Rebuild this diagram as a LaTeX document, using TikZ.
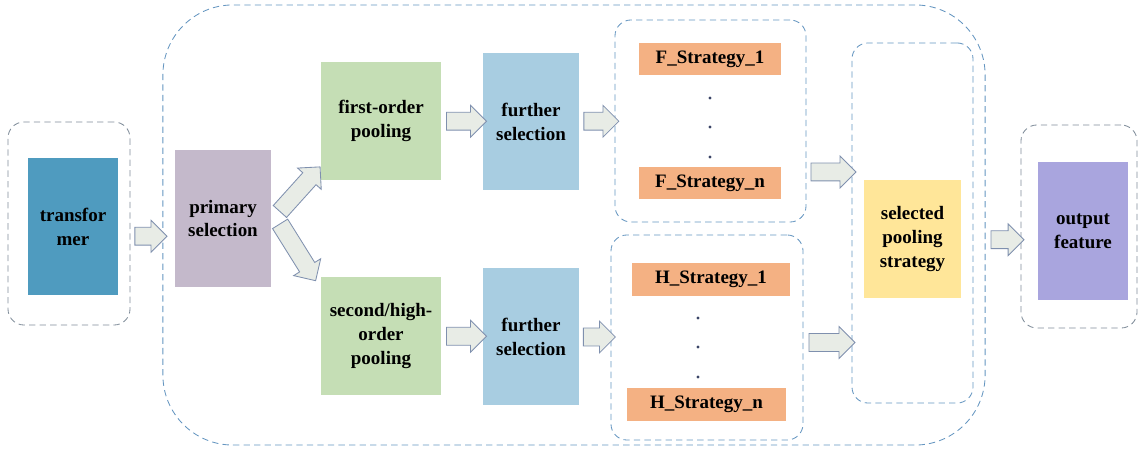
\documentclass[tikz,border=0pt]{standalone}
\usepackage{fontspec}
\setmainfont{Liberation Serif}
\usetikzlibrary{shapes.arrows,calc}
\definecolor{transblue}{HTML}{4F9BBF}
\definecolor{primgrey}{HTML}{C4B9CB}
\definecolor{poolgreen}{HTML}{C5DEB5}
\definecolor{selblue}{HTML}{A8CDE1}
\definecolor{stratorange}{HTML}{F4B183}
\definecolor{selyellow}{HTML}{FFE699}
\definecolor{outpurple}{HTML}{A9A5DE}
\definecolor{arrowfill}{HTML}{E8ECE6}
\definecolor{arrowline}{HTML}{7F90AE}
\definecolor{dashblue}{HTML}{6495C0}
\definecolor{dashgrey}{HTML}{7F8C99}
\definecolor{dotcol}{HTML}{3A4466}
\begin{document}
\begin{tikzpicture}[x=0.025cm,y=-0.025cm,
    every node/.style={font=\bfseries\fontsize{13.5}{17}\selectfont, align=center, inner sep=0pt},
    box/.style={rectangle},
    group/.style={draw=dashblue, dash pattern=on 4.5pt off 3pt, rounded corners=0.4cm, line width=0.6pt},
    grey group/.style={group, draw=dashgrey},
    barrow/.style={single arrow, draw=arrowline, fill=arrowfill, line width=0.6pt,
        inner ysep=0.2125cm, minimum width=0.775cm, single arrow head extend=0.175cm}]
        \useasboundingbox (0,0) rectangle (1138,451);
        \node[grey group, minimum width=3.05cm, minimum height=5.075cm] (lgrp) at (69,223.5) {};
        \node[box, fill=transblue, minimum width=2.25cm, minimum height=3.425cm] (trans) at (73,226.5) {transfor\\mer};
        \node[group, rounded corners=1.75cm, minimum width=20.55cm, minimum height=11cm] (outer) at (574,225) {};
        \node[box, fill=primgrey, minimum width=2.4cm, minimum height=3.425cm] (prim) at (223,218.5) {primary\\selection};
        \node[box, fill=poolgreen, minimum width=3cm, minimum height=2.95cm] (fop) at (381,121) {first-order\\pooling};
        \node[box, fill=poolgreen, minimum width=3cm, minimum height=2.95cm] (sop) at (381,336) {second/high-\\order\\pooling};
        \node[box, fill=selblue, minimum width=2.4cm, minimum height=3.425cm] (fsel1) at (531,121.5) {further\\selection};
        \node[box, fill=selblue, minimum width=2.4cm, minimum height=3.425cm] (fsel2) at (531,336.5) {further\\selection};
        \node[group, minimum width=4.775cm, minimum height=5.05cm] (fgrp) at (710.5,121) {};
        \node[box, fill=stratorange, minimum width=3.55cm, minimum height=0.8cm] (fs1) at (710,59) {F\_Strategy\_1};
        \node[box, fill=stratorange, minimum width=3.55cm, minimum height=0.8cm] (fsn) at (710,183) {F\_Strategy\_n};
        \node[group, minimum width=4.8cm, minimum height=5.125cm] (hgrp) at (707,337.5) {};
        \node[box, fill=stratorange, minimum width=3.95cm, minimum height=0.825cm] (hs1) at (711,279.5) {H\_Strategy\_1};
        \node[box, fill=stratorange, minimum width=3.975cm, minimum height=0.825cm] (hsn) at (706.5,404.5) {H\_Strategy\_n};
        \node[group, minimum width=3.025cm, minimum height=9cm] (sgrp) at (912.5,223) {};
        \node[box, fill=selyellow, minimum width=2.425cm, minimum height=2.95cm] (sel) at (912.5,239) {selected\\pooling\\strategy};
        \node[grey group, minimum width=2.9cm, minimum height=5.075cm] (ogrp) at (1079,226.5) {};
        \node[box, fill=outpurple, minimum width=2.25cm, minimum height=3.45cm] (outf) at (1083,231) {output\\feature};
        \foreach \y in {98,127,157} \fill[dotcol] (710,\y) circle[radius=1.2pt];
        \foreach \y in {318,347,377} \fill[dotcol] (698,\y) circle[radius=1.2pt];
        \node[barrow, minimum height=0.8cm] (a1) at ($(lgrp.east)!0.5!(outer.west)+(0,12)$) {};
        \node[barrow, minimum height=1.5cm, rotate=48] (a2) at (297,192.5) {};
        \node[barrow, minimum height=1.675cm, rotate=-58] (a3) at (295.5,248.5) {};
        \node[barrow, minimum height=1cm] (a4) at ($(fop.east)!0.5!(fsel1.west)$) {};
        \node[barrow, minimum height=1cm] (a5) at ($(sop.east)!0.5!(fsel2.west)$) {};
        \node[barrow, minimum height=0.875cm] (a6) at ($(fsel1.east)!0.5!(fgrp.west)$) {};
        \node[barrow, minimum height=0.8cm] (a7) at ($(fsel2.east)!0.5!(hgrp.west)$) {};
        \node[barrow, minimum height=1.125cm] (a8) at ($(fgrp.east)!0.5!(sgrp.west)$) {};
        \node[barrow, minimum height=1.15cm] (a9) at ($(hgrp.east)!0.5!(sgrp.west |- hgrp.east)+(0,5)$) {};
        \node[barrow, minimum height=0.825cm] (a10) at ($(outer.east)!0.5!(ogrp.west)+(0,14)$) {};
\end{tikzpicture}
\end{document}
